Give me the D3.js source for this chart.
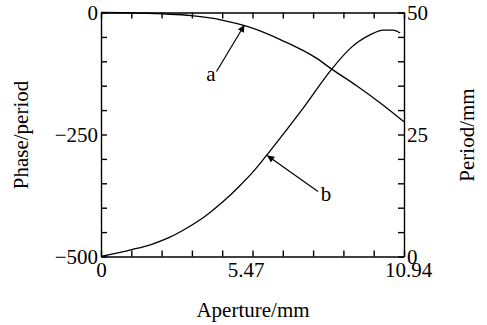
<!DOCTYPE html>
<html lang="en">
<head>
    <meta charset="UTF-8">
    <script src="https://cdn.jsdelivr.net/npm/d3@7"></script>
    <style>
        body{ margin:0; background:#fff; }
        text{ font-family:"Liberation Serif","Times New Roman",serif; font-size:21px; fill:#000; }
        .curve{ fill:none; stroke:#000; stroke-width:1.3; }
    </style>
    <title>Phase and period</title>
</head>
<body>
    <svg height="325" width="487"></svg>
    <script>
        // curve a : phase (left axis)
        var apertureA = [0, 1.34, 3.27, 4.36, 5.31, 6.57, 7.79, 8.33, 9.23, 10.19, 10.94];
        var phase     = [0, -1, -6.6, -15.4, -29, -58, -94, -116, -150, -190, -224];
        // curve b : period (right axis)
        var apertureB = [0, 1.11, 1.83, 2.43, 3.15, 3.75, 4.36, 4.96, 5.56, 6.10, 7.30, 8.33, 8.99, 9.71, 10.19, 10.55, 10.80];
        var period    = [0, 1.4, 2.5, 3.8, 6.0, 8.2, 11.0, 14.2, 17.8, 21.6, 30.4, 38.4, 42.6, 45.4, 46.4, 46.4, 45.8];

        var xTicks = d3.range(0, 11).map(function(i){ return i * 1.094; });
        var xLabels = [0, 5.47, 10.94];
        var phaseTicks = d3.range(0, 11).map(function(i){ return -50 * i; });
        var phaseLabels = [0, -250, -500];
        var periodTicks = d3.range(0, 11).map(function(i){ return 5 * i; });
        var periodLabels = [0, 25, 50];

        var svg = d3.select("svg");
        var pLeft = 101, pRight = 404, pTop = 12.5, pBottom = 256.5; // plot frame

        var x = d3.scaleLinear().domain([0, 10.94]).range([pLeft, pRight]);
        var yL = d3.scaleLinear().domain([-500, 0]).range([pBottom, pTop]);
        var yR = d3.scaleLinear().domain([0, 50]).range([pBottom, pTop]);

        function labelOnly(list, fmt){
            return function(d){
                var hit = list.some(function(v){ return Math.abs(v - d) < 1e-6; });
                return hit ? fmt(d) : "";
            };
        }

        // bottom axis
        var gx = svg.append("g")
            .attr("transform", "translate(0," + pBottom + ")")
            .call(d3.axisBottom(x).tickValues(xTicks).tickSize(-6).tickSizeOuter(0).tickPadding(5.5)
                .tickFormat(labelOnly(xLabels, function(d){ return d === 0 ? "0" : d.toFixed(2); })));
        gx.selectAll(".tick text").attr("dx", function(d){
            if (Math.abs(d - 5.47) < 1e-6) return -7;
            if (Math.abs(d - 10.94) < 1e-6) return 4;
            return 0;
        });

        // top axis (ticks only)
        svg.append("g")
            .attr("transform", "translate(0," + pTop + ")")
            .call(d3.axisTop(x).tickValues(xTicks).tickSize(-6).tickSizeOuter(0).tickFormat(""));

        // left axis
        svg.append("g")
            .attr("transform", "translate(" + pLeft + ",0)")
            .call(d3.axisLeft(yL).tickValues(phaseTicks).tickSize(-6).tickSizeOuter(0).tickPadding(3)
                .tickFormat(labelOnly(phaseLabels, d3.format("d"))));

        // right axis
        svg.append("g")
            .attr("transform", "translate(" + pRight + ",0)")
            .call(d3.axisRight(yR).tickValues(periodTicks).tickSize(-6).tickSizeOuter(0).tickPadding(3)
                .tickFormat(labelOnly(periodLabels, d3.format("d"))));

        svg.selectAll(".domain, .tick line").attr("stroke", "#000").attr("stroke-width", 1.4);
        svg.selectAll(".tick text").style("font-size", "21px").style("font-family", "Liberation Serif");

        // curves
        var lineA = d3.line()
            .x(function(d, i){ return x(apertureA[i]); })
            .y(function(d){ return yL(d); })
            .curve(d3.curveMonotoneX);
        var lineB = d3.line()
            .x(function(d, i){ return x(apertureB[i]); })
            .y(function(d){ return yR(d); })
            .curve(d3.curveMonotoneX);

        svg.append("path").attr("class", "curve").attr("d", lineA(phase));
        svg.append("path").attr("class", "curve").attr("d", lineB(period));

        // arrows
        svg.append("defs").append("marker")
            .attr("id", "head")
            .attr("viewBox", "0 0 10 10")
            .attr("refX", 10).attr("refY", 5)
            .attr("markerWidth", 11).attr("markerHeight", 7)
            .attr("markerUnits", "userSpaceOnUse")
            .attr("orient", "auto")
            .append("path").attr("d", "M0,0L10,5L0,10Z").attr("fill", "#000");

        svg.append("line")
            .attr("x1", 216.5).attr("y1", 71.5)
            .attr("x2", x(5.18)).attr("y2", yL(-25.5))
            .attr("stroke", "#000").attr("stroke-width", 1.2)
            .attr("marker-end", "url(#head)");
        svg.append("text").attr("x", 211).attr("y", 81).attr("text-anchor", "middle").text("a");

        svg.append("line")
            .attr("x1", 318).attr("y1", 191.5)
            .attr("x2", x(6.0)).attr("y2", yR(20.7))
            .attr("stroke", "#000").attr("stroke-width", 1.2)
            .attr("marker-end", "url(#head)");
        svg.append("text").attr("x", 326).attr("y", 201).attr("text-anchor", "middle").text("b");

        // axis titles
        svg.append("text")
            .attr("transform", "translate(28,135) rotate(-90)")
            .attr("text-anchor", "middle")
            .text("Phase/period");
        svg.append("text")
            .attr("transform", "translate(474,135) rotate(-90)")
            .attr("text-anchor", "middle")
            .text("Period/mm");
        svg.append("text")
            .attr("x", 253).attr("y", 317)
            .attr("text-anchor", "middle")
            .text("Aperture/mm");
    </script>
</body>
</html>
